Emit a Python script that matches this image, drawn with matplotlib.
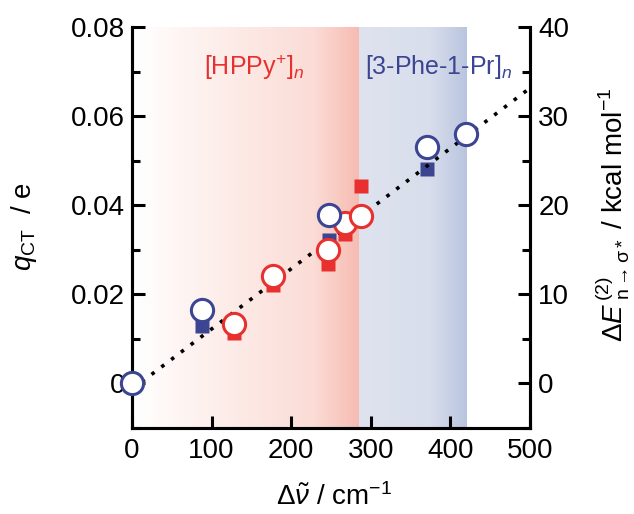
import numpy as np
import matplotlib
matplotlib.use("Agg")
from matplotlib import pyplot as plt
from matplotlib.colors import LinearSegmentedColormap

FONT = 'Liberation Sans'
plt.rcParams['font.family'] = [FONT, 'DejaVu Sans']
plt.rcParams['mathtext.fontset'] = 'custom'
plt.rcParams['mathtext.rm'] = FONT
plt.rcParams['mathtext.it'] = FONT + ':italic'
plt.rcParams['mathtext.sf'] = FONT

# wavenumber shift / cm-1
hppy_x = [128, 177, 246, 268, 288]
phe_x = [0, 88, 247, 371, 420]

# q_CT / e (squares, left axis)
hppy_q = [0.0113, 0.0222, 0.0269, 0.0336, 0.0443]
phe_q = [0.0, 0.0129, 0.0321, 0.0482, 0.0555]

# dE(2) / kcal mol-1 (circles, right axis)
hppy_e = [6.7, 12.05, 15.0, 17.95, 18.8]
phe_e = [0.0, 8.2, 18.95, 26.5, 28.0]

# linear fit (left axis units)
fit_x = [0, 500]
fit_q = [-0.0013, 0.0663]

red = '#e8312f'
blue = '#3b4592'

W, H = 634, 514
fig = plt.figure(figsize=(W / 100, H / 100), dpi=100)
ax = fig.add_axes([132 / W, 1 - 428 / H, 398 / W, 401 / H])
ax2 = ax.twinx()

# background gradients
grad = np.linspace(0, 1, 256).reshape(1, -1)
red_cmap = LinearSegmentedColormap.from_list(
    'r', [(0, '#ffffff'), (0.45, '#fdebe7'), (0.8, '#fbdcd6'), (1, '#f6bcb2')])
blue_cmap = LinearSegmentedColormap.from_list(
    'b', [(0, '#dfe3ef'), (0.65, '#d9deec'), (1, '#b9c5df')])
ax.imshow(grad, cmap=red_cmap, aspect='auto', extent=(0, 285, -0.01, 0.08), zorder=0)
ax.imshow(grad, cmap=blue_cmap, aspect='auto', extent=(285, 420, -0.01, 0.08), zorder=0)
ax.set_xlim(0, 500)
ax.set_ylim(-0.01, 0.08)
ax2.set_ylim(-5, 40)

ax.plot(hppy_x, hppy_q, 's', color=red, ms=10, mec='none', zorder=2)
ax.plot(phe_x, phe_q, 's', color=blue, ms=10, mec='none', zorder=2)
ax.plot(fit_x, fit_q, color='black', lw=2.6, dashes=(1, 2.4), zorder=3)

ax2.plot(hppy_x, hppy_e, 'o', mfc='white', mec=red, mew=2.2, ms=16, zorder=4, clip_on=False)
ax2.plot(phe_x, phe_e, 'o', mfc='white', mec=blue, mew=2.2, ms=16, zorder=4, clip_on=False)

for a in (ax, ax2):
    a.spines['top'].set_visible(False)
    for s in a.spines.values():
        s.set_linewidth(2.2)

ax.set_xticks([0, 100, 200, 300, 400, 500])
ax.set_yticks([0, 0.02, 0.04, 0.06, 0.08])
ax.set_yticklabels(['0', '0.02', '0.04', '0.06', '0.08'])
ax.set_yticks(np.arange(-0.01, 0.08, 0.01), minor=True)
ax2.set_yticks([0, 10, 20, 30, 40])
ax2.set_yticks([-5, 5, 15, 25, 35], minor=True)

ax.tick_params(axis='y', which='major', direction='in', length=9, width=2.2,
               labelsize=20, pad=5)
ax.tick_params(axis='x', which='major', direction='in', length=9, width=2.2,
               labelsize=20, pad=7)
ax.tick_params(axis='y', which='minor', direction='in', length=5.5, width=2.2)
ax2.tick_params(axis='y', which='major', direction='in', length=9, width=2.2,
                labelsize=20, pad=6)
ax2.tick_params(axis='y', which='minor', direction='in', length=5.5, width=2.2)

# axis titles placed at pixel positions
fig.text(334 / W, 1 - 505 / H, r'$\Delta\tilde{\mathit{\nu}}$ / cm$^{-1}$',
         fontsize=20, ha='center', va='baseline')
fig.text(24 / W, 1 - 226 / H, r'$\mathit{q}_{\rm CT}$  / e',
         fontsize=20, ha='center', va='center', rotation=90)
fig.text(613 / W, 1 - 215 / H,
         r'$\Delta \mathit{E}^{\,(2)}_{\ \rm n\rightarrow\sigma*}$ / kcal mol$^{-1}$',
         fontsize=20, ha='center', va='center', rotation=90)

ax.text(0.307, 0.90, r'[HPPy$^{+}$]$_{\mathit{n}}$', transform=ax.transAxes, color=red,
        fontsize=18, ha='center', va='center')
ax.text(0.771, 0.90, r'[3-Phe-1-Pr]$_{\mathit{n}}$', transform=ax.transAxes, color=blue,
        fontsize=18, ha='center', va='center')

fig.savefig('out.png', dpi=100)
